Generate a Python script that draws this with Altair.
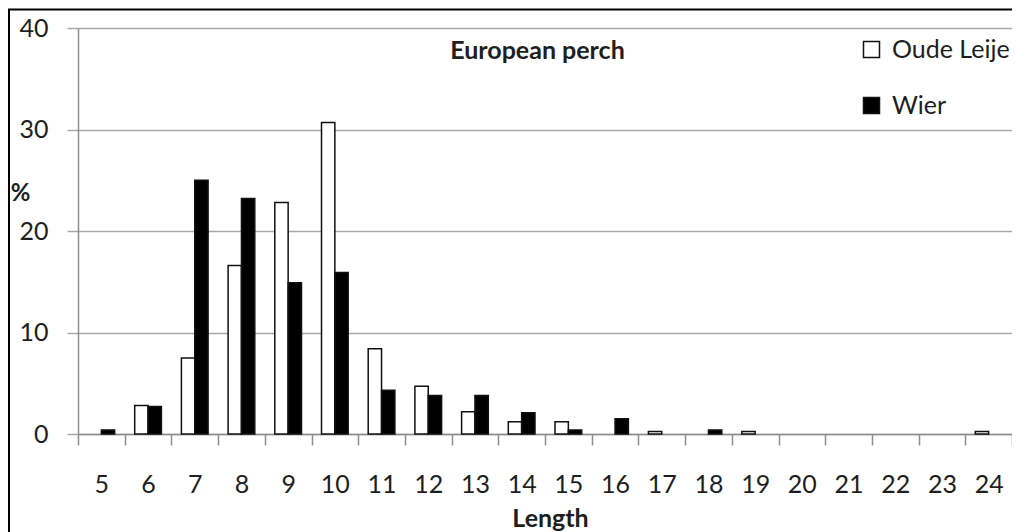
import altair as alt
import pandas as pd

# ---- data ----
lengths = list(range(5, 25))
oude_leije = [0, 2.8, 7.5, 16.6, 22.8, 30.7, 8.4, 4.7, 2.2, 1.2, 1.2, 0, 0.25, 0, 0.25, 0, 0, 0, 0, 0.25]
wier = [0.4, 2.7, 25.0, 23.2, 14.9, 15.9, 4.3, 3.8, 3.8, 2.1, 0.4, 1.5, 0, 0.4, 0, 0, 0, 0, 0, 0]
series_names = ["Oude Leije", "Wier"]
y_ticks = [0, 10, 20, 30, 40]
title_text = "European perch"
x_title = "Length"
y_title = "%"

rows = []
for i, L in enumerate(lengths):
    rows.append({"length": L, "series": series_names[0], "pct": oude_leije[i]})
    rows.append({"length": L, "series": series_names[1], "pct": wier[i]})
df = pd.DataFrame(rows)

FONT = "Lato"
GRID = "#a8a8a8"
AXIS = "#8e8e8e"
TEXT = "#1e1e1e"

W = 934
H = 406

bars = alt.Chart(df).transform_filter("datum.pct > 0").mark_bar(
    stroke="#111111", strokeWidth=1.5
).encode(
    x=alt.X(
        "length:O",
        scale=alt.Scale(domain=lengths, paddingInner=0, paddingOuter=0),
        axis=alt.Axis(
            title=x_title, tickBand="extent", grid=False,
            domainColor=AXIS, domainWidth=1.5, tickColor=AXIS, tickWidth=1.5, tickSize=11,
            labelFont=FONT, labelFontSize=25, labelColor=TEXT, labelAngle=0,
            labelBaseline="alphabetic", labelPadding=47,
            titleFont=FONT, titleFontSize=25, titleFontWeight="bold", titleColor=TEXT,
            titleX=472, titleY=92, titleBaseline="alphabetic", titleAlign="center",
        ),
    ),
    xOffset=alt.XOffset(
        "series:N",
        scale=alt.Scale(domain=series_names, paddingInner=0, paddingOuter=0.75),
    ),
    y=alt.Y(
        "pct:Q",
        scale=alt.Scale(domain=[0, 40], nice=False),
        axis=alt.Axis(
            values=y_ticks, title=y_title,
            domainColor=AXIS, domainWidth=1.5, tickColor=GRID, tickWidth=1.5, tickSize=11,
            gridColor=GRID, gridWidth=1.5,
            labelFont=FONT, labelFontSize=25, labelColor=TEXT, labelPadding=19,
            titleFont=FONT, titleFontSize=24, titleFontWeight="bold", titleColor=TEXT,
            titleAngle=0, titleX=-58, titleY=165, titleAlign="center", titleBaseline="middle",
        ),
    ),
    fill=alt.Fill(
        "series:N",
        scale=alt.Scale(domain=series_names, range=["white", "black"]),
        legend=alt.Legend(
            title=None, orient="none", legendX=781, legendY=9, padding=0,
            symbolType="square", symbolSize=256, symbolStrokeColor="#111111",
            symbolStrokeWidth=1.5, labelFont=FONT, labelFontSize=25, labelColor=TEXT,
            labelOffset=8, rowPadding=30,
        ),
    ),
)

title = alt.Chart(pd.DataFrame({"t": [title_text]})).mark_text(
    font=FONT, fontSize=25, fontWeight="bold", align="center", baseline="alphabetic", color=TEXT
).encode(text="t:N", x=alt.value(459.5), y=alt.value(31))

frame_data = pd.DataFrame({"f": [0]})
frame_left = alt.Chart(frame_data).mark_rule(color="black", strokeWidth=2).encode(
    x=alt.value(-69), y=alt.value(-18.5), y2=alt.value(H + 98)
)
frame_top = alt.Chart(frame_data).mark_rule(color="black", strokeWidth=2).encode(
    x=alt.value(-70), x2=alt.value(W), y=alt.value(-18.5)
)

chart = alt.layer(frame_left, frame_top, bars, title).properties(
    width=W, height=H,
    padding={"left": 70, "top": 20, "right": 0, "bottom": 98},
    autosize="none",
).configure_view(strokeWidth=0)

chart.save("out.html", embed_options={"renderer": "svg", "actions": False})
